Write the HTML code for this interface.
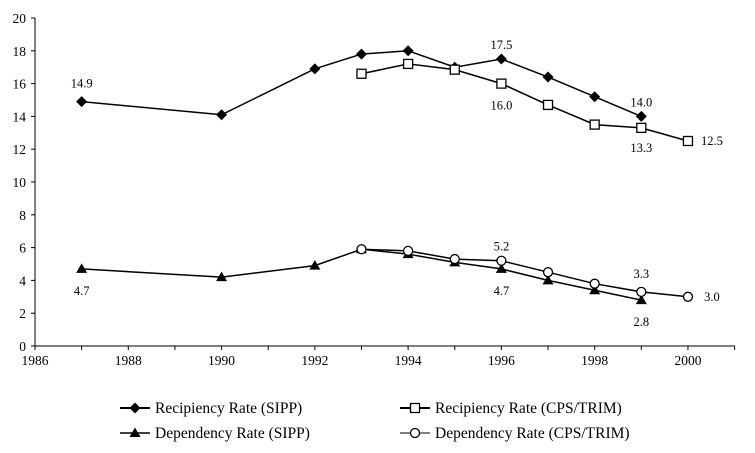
<!DOCTYPE html>
<html><head><meta charset="utf-8"><style>
html,body{margin:0;padding:0;background:#fff;width:755px;height:453px;overflow:hidden}
svg text{font-family:"Liberation Serif",serif;fill:#000}
</style></head><body>
<svg id="s" width="755" height="453" xmlns="http://www.w3.org/2000/svg"></svg>
<script>
const s=document.getElementById('s');
const X=y=>35+(y-1986)*46.64, Y=v=>346-v*16.4;
let h='';
h+=`<line x1="35" y1="18" x2="35" y2="346" stroke="#000" stroke-width="1"/>`;
h+=`<line x1="35" y1="346" x2="735" y2="346" stroke="#000" stroke-width="1"/>`;
for(let v=0;v<=20;v+=2){h+=`<line x1="31" y1="${Y(v)}" x2="35" y2="${Y(v)}" stroke="#000"/><text x="26" y="${Y(v)+5}" font-size="13.5" text-anchor="end">${v}</text>`;}
for(let y=1986;y<=2001;y++){h+=`<line x1="${X(y)}" y1="346" x2="${X(y)}" y2="350" stroke="#000"/>`;if(y%2==0&&y<=2000)h+=`<text x="${X(y)}" y="365" font-size="13.5" text-anchor="middle">${y}</text>`;}
const mk=(t,x,y)=>{
 if(t=='d')return `<polygon points="${x},${y-5.5} ${x+5.5},${y} ${x},${y+5.5} ${x-5.5},${y}" fill="#000"/>`;
 if(t=='s')return `<rect x="${x-4.5}" y="${y-4.5}" width="9" height="9" fill="#fff" stroke="#000" stroke-width="1.3"/>`;
 if(t=='t')return `<polygon points="${x},${y-5.5} ${x+5.5},${y+4} ${x-5.5},${y+4}" fill="#000"/>`;
 return `<circle cx="${x}" cy="${y}" r="4.5" fill="#fff" stroke="#000" stroke-width="1.3"/>`;};
const ser=[
['d',[[1987,14.9],[1990,14.1],[1992,16.9],[1993,17.8],[1994,18.0],[1995,17.0],[1996,17.5],[1997,16.4],[1998,15.2],[1999,14.0]]],
['s',[[1993,16.6],[1994,17.2],[1995,16.85],[1996,16.0],[1997,14.7],[1998,13.5],[1999,13.3],[2000,12.5]]],
['t',[[1987,4.7],[1990,4.2],[1992,4.9],[1993,5.9],[1994,5.6],[1995,5.1],[1996,4.7],[1997,4.0],[1998,3.4],[1999,2.8]]],
['c',[[1993,5.9],[1994,5.8],[1995,5.3],[1996,5.2],[1997,4.5],[1998,3.8],[1999,3.3],[2000,3.0]]]];
for(const [t,d] of ser){h+=`<polyline fill="none" stroke="#000" stroke-width="1.5" points="${d.map(p=>X(p[0])+','+Y(p[1])).join(' ')}"/>`;for(const p of d)h+=mk(t,X(p[0]),Y(p[1]));}
const lb=[[1987,14.9,0,-18,'14.9'],[1996,17.5,0,-14,'17.5'],[1999,14.0,0,-14,'14.0'],[1996,16.0,0,22,'16.0'],[1999,13.3,0,20,'13.3'],[2000,12.5,24,0,'12.5'],
[1987,4.7,0,22,'4.7'],[1996,5.2,0,-14,'5.2'],[1996,4.7,0,22,'4.7'],[1999,3.3,0,-18,'3.3'],[1999,2.8,0,22,'2.8'],[2000,3.0,24,0,'3.0']];
for(const [y,v,dx,dy,t] of lb)h+=`<text x="${X(y)+dx}" y="${Y(v)+dy+4}" font-size="12.5" text-anchor="middle">${t}</text>`;
const leg=[['d',120,408,'Recipiency Rate (SIPP)',2],['s',400,408,'Recipiency Rate (CPS/TRIM)',2],['t',120,433,'Dependency Rate (SIPP)',1.5],['c',400,433,'Dependency Rate (CPS/TRIM)',1]];
for(const [t,x,y,l,w] of leg){h+=`<line x1="${x}" y1="${y}" x2="${x+30}" y2="${y}" stroke="#000" stroke-width="${w}"/>`+mk(t,x+15,y)+`<text x="${x+35}" y="${y+5}" font-size="15.5">${l}</text>`;}
s.innerHTML=h;
</script>
</body></html>
